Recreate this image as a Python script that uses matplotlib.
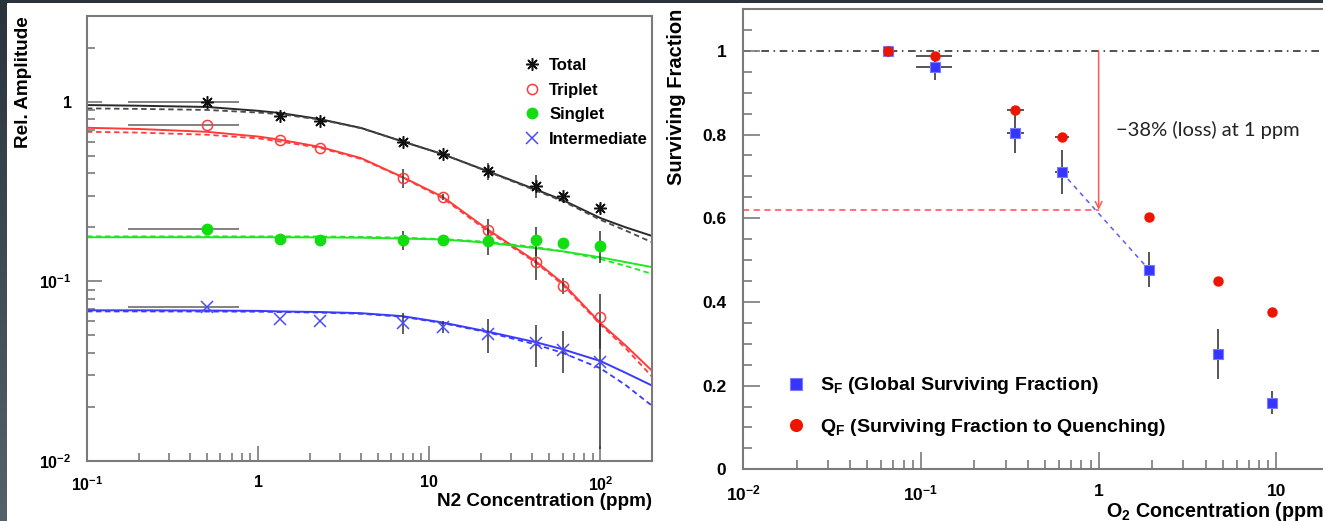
import numpy as np
import matplotlib
matplotlib.use('Agg')
import matplotlib.pyplot as plt
from matplotlib.lines import Line2D
from matplotlib.patches import Rectangle
from matplotlib.ticker import LogLocator, NullFormatter, FixedLocator, FixedFormatter, MultipleLocator

plt.rcParams['font.family'] = ['Liberation Sans', 'DejaVu Sans']
plt.rcParams['font.weight'] = 'bold'
plt.rcParams['axes.labelweight'] = 'bold'
plt.rcParams['mathtext.fontset'] = 'custom'
plt.rcParams['mathtext.rm'] = 'Liberation Sans:bold'
plt.rcParams['mathtext.bf'] = 'Liberation Sans:bold'
plt.rcParams['mathtext.default'] = 'rm'

W, H = 1323, 521

# ---- left panel: N2 data ----
n2_conc = [0.5, 1.35, 2.3, 7, 12, 22, 42, 60, 100]
n2_xerr_lo = [0.326, 0, 0, 0, 0, 0, 0, 0, 0]
n2_xerr_hi = [0.27, 0, 0, 0, 0, 0, 0, 0, 0]

total_amp = [1.0, 0.83, 0.78, 0.60, 0.51, 0.41, 0.34, 0.297, 0.256]
total_err = [0, 0, 0, 0.02, 0.015, 0.045, 0.05, 0.015, 0.015]
triplet_amp = [0.745, 0.61, 0.555, 0.377, 0.295, 0.192, 0.128, 0.0946, 0.0636]
triplet_err = [0, 0, 0, 0.044, 0.01, 0.031, 0.026, 0.01, 0.0214]
singlet_amp = [0.195, 0.171, 0.169, 0.170, 0.169, 0.1675, 0.170, 0.163, 0.158]
singlet_err = [0, 0, 0, 0.02, 0, 0.028, 0.032, 0.01, 0.032]
inter_amp = [0.0724, 0.0617, 0.0604, 0.059, 0.0558, 0.051, 0.0453, 0.0417, 0.0357]
inter_err = [0, 0, 0, 0.008, 0.004, 0.011, 0.012, 0.011, 0.024]

# fit curves (solid and dashed)
fit_conc = [0.1, 0.2, 0.5, 1, 1.35, 2.3, 4, 7, 12, 22, 42, 60, 100, 140, 200]
total_fit = [0.958, 0.95, 0.935, 0.89, 0.865, 0.80, 0.714, 0.60, 0.51, 0.41, 0.324, 0.284, 0.225, 0.20, 0.179]
total_fit2 = [0.918, 0.912, 0.90, 0.87, 0.852, 0.795, 0.712, 0.60, 0.51, 0.408, 0.32, 0.28, 0.22, 0.192, 0.165]
triplet_fit = [0.716, 0.705, 0.68, 0.64, 0.614, 0.56, 0.485, 0.38, 0.295, 0.194, 0.129, 0.098, 0.0585, 0.044, 0.0318]
triplet_fit2 = [0.68, 0.673, 0.655, 0.625, 0.60, 0.553, 0.48, 0.378, 0.29, 0.19, 0.127, 0.096, 0.0575, 0.0425, 0.0295]
singlet_fit = [0.176, 0.176, 0.176, 0.176, 0.176, 0.1757, 0.175, 0.173, 0.171, 0.164, 0.153, 0.147, 0.136, 0.128, 0.12]
singlet_fit2 = [0.178, 0.178, 0.178, 0.178, 0.178, 0.1777, 0.177, 0.175, 0.172, 0.166, 0.155, 0.147, 0.133, 0.122, 0.110]
inter_fit = [0.069, 0.069, 0.0688, 0.0685, 0.068, 0.0675, 0.0665, 0.064, 0.059, 0.0525, 0.0458, 0.0419, 0.036, 0.031, 0.0263]
inter_fit2 = [0.068, 0.068, 0.0679, 0.0678, 0.0675, 0.067, 0.066, 0.0635, 0.0585, 0.052, 0.0445, 0.040, 0.0328, 0.0265, 0.0203]

# ---- right panel: O2 data ----
o2_conc = [0.065, 0.12, 0.34, 0.62, 1.92, 4.7, 9.4]
o2_xerr_lo = [0, 0.026, 0.035, 0.05, 0, 0, 0]
o2_xerr_hi = [0, 0.029, 0.04, 0.06, 0, 0, 0]
sf = [1.0, 0.961, 0.804, 0.710, 0.477, 0.276, 0.159]
sf_err = [0, 0.03, 0.048, 0.053, 0.042, 0.06, 0.028]
qf = [1.0, 0.988, 0.859, 0.795, 0.602, 0.451, 0.377]
loss_conc = 1.0
loss_level = 0.62

GRAY = '#7a7a7a'

fig = plt.figure(figsize=(W / 100, H / 100), dpi=100)
fig.patch.set_facecolor('#2b343d')
fig.add_artist(Rectangle((7 / W, 0), 1, (H - 3) / H, transform=fig.transFigure,
                         facecolor='white', edgecolor='none', zorder=0))
strip = fig.add_axes([0, 0, 7 / W, (H - 3) / H])
grad = np.linspace(0, 1, 100).reshape(-1, 1)
strip.imshow(grad, aspect='auto', cmap=matplotlib.colors.LinearSegmentedColormap.from_list(
    'bg', ['#2b343d', '#56616b']), origin='upper')
strip.axis('off')


def style_axes(ax, size):
    for s in ax.spines.values():
        s.set_color(GRAY)
        s.set_linewidth(1.5)
    ax.tick_params(which='both', direction='in', color=GRAY, width=1.2,
                   top=False, right=False, labelsize=size, labelcolor='black')
    ax.tick_params(which='major', length=11)
    ax.tick_params(which='minor', length=5.5)


# ---------------- left ----------------
ax1 = fig.add_axes([87 / W, (H - 461) / H, 565 / W, 445 / H])
ax1.set_xscale('log')
ax1.set_yscale('log')
ax1.set_xlim(0.1, 200)
ax1.set_ylim(0.01, 3)
style_axes(ax1, 11.5)
ax1.tick_params(axis='x', pad=10)
ax1.tick_params(axis='y', pad=11)
ax1.xaxis.set_major_locator(FixedLocator([0.1, 1, 10, 100]))
ax1.xaxis.set_major_formatter(FixedFormatter(['$10^{-1}$', '1', '10', '$10^{2}$']))
ax1.xaxis.set_minor_locator(LogLocator(base=10, subs=np.arange(2, 10)))
ax1.xaxis.set_minor_formatter(NullFormatter())
ax1.yaxis.set_major_locator(FixedLocator([0.01, 0.1, 1]))
ax1.yaxis.set_major_formatter(FixedFormatter(['$10^{-2}$', '$10^{-1}$', '1']))
ax1.yaxis.set_minor_locator(LogLocator(base=10, subs=np.arange(2, 10)))
ax1.yaxis.set_minor_formatter(NullFormatter())

series = [
    (total_amp, total_err, total_fit, total_fit2, '#2a2a2a', '#4a4a4a',
     dict(marker=(8, 2, 0), ms=9, mew=1.1, mec='#111', mfc='#111'), 'Total'),
    (triplet_amp, triplet_err, triplet_fit, triplet_fit2, '#ff3b3b', '#ff3b3b',
     dict(marker='o', ms=7.3, mew=1.1, mec='#ff3b3b', mfc='none'), 'Triplet'),
    (singlet_amp, singlet_err, singlet_fit, singlet_fit2, '#22e622', '#22e622',
     dict(marker='o', ms=7.5, mew=1, mec='#11dd11', mfc='#11dd11'), 'Singlet'),
    (inter_amp, inter_err, inter_fit, inter_fit2, '#3a3aff', '#3a3aff',
     dict(marker='x', ms=8.3, mew=1.1, mec='#4a4aff'), 'Intermediate'),
]
handles = []
for amp, err, fit, fit2, c, c2, mk, lab in series:
    ax1.plot(fit_conc, fit, color=c, lw=1.4, zorder=2)
    ax1.plot(fit_conc, fit2, color=c2, lw=1.3, ls=(0, (3, 2)), zorder=2)
    ax1.errorbar(n2_conc, amp, xerr=[n2_xerr_lo, n2_xerr_hi], fmt='none',
                 ecolor='#777', elinewidth=1.3, zorder=3)
    ax1.errorbar(n2_conc, amp, yerr=err, fmt='none', ecolor='#333',
                 elinewidth=1.1, zorder=3)
    ax1.plot(n2_conc, amp, ls='none', zorder=4, **mk)
    handles.append(Line2D([], [], ls='none', label=lab, **mk))

ax1.legend(handles=handles, loc='upper left', bbox_to_anchor=(0.773, 0.905),
           frameon=False, fontsize=12, handlelength=1.0, handletextpad=0.52,
           labelspacing=0.57, borderaxespad=0, borderpad=0)
ax1.set_xlabel('N2 Concentration (ppm)', fontsize=13.6, loc='right')
ax1.xaxis.set_label_coords(1.0, -0.072)
ax1.set_ylabel('Rel. Amplitude', fontsize=13.6, loc='top')
ax1.yaxis.set_label_coords(-0.097, 1.0)

# ---------------- right ----------------
ax2 = fig.add_axes([743 / W, (H - 469.3) / H, 587 / W, 460.3 / H])
ax2.set_xscale('log')
ax2.set_xlim(0.01, 20)
ax2.set_ylim(0, 1.1)
style_axes(ax2, 12.5)
ax2.tick_params(which='major', length=12.5)
ax2.tick_params(which='minor', length=6.5)
ax2.tick_params(axis='x', pad=10.5)
ax2.tick_params(axis='y', pad=12)
ax2.xaxis.set_major_locator(FixedLocator([0.01, 0.1, 1, 10]))
ax2.xaxis.set_major_formatter(FixedFormatter(['$10^{-2}$', '$10^{-1}$', '1', '10']))
ax2.xaxis.set_minor_locator(LogLocator(base=10, subs=np.arange(2, 10)))
ax2.xaxis.set_minor_formatter(NullFormatter())
ax2.yaxis.set_major_locator(MultipleLocator(0.2))
ax2.yaxis.set_minor_locator(MultipleLocator(0.05))
ax2.yaxis.set_major_formatter(matplotlib.ticker.FuncFormatter(lambda v, p: f'{v:g}'))

ax2.axhline(1.0, color='#222', lw=1.1, ls=(0, (5, 3, 1, 3)), zorder=1)
ax2.plot([0.01, loss_conc], [loss_level, loss_level], color='#ff4a4a', lw=1.1,
         ls=(0, (4, 3)), zorder=1)
ax2.annotate('', xy=(loss_conc, loss_level), xytext=(loss_conc, 1.0),
             arrowprops=dict(arrowstyle='->', color='#ff5a5a', lw=1.1,
                             shrinkA=0, shrinkB=0, mutation_scale=12), zorder=1)
ax2.plot([o2_conc[3], o2_conc[4]], [sf[3], sf[4]], color='#5a5aff', lw=1.1,
         ls=(0, (3, 3)), zorder=1)
ax2.text(1.25, 0.81, '\u221238% (loss) at 1 ppm', fontsize=14.5, family='Lato',
         weight='normal', ha='left', va='center', color='#222')

ax2.errorbar(o2_conc, sf, yerr=sf_err, xerr=[o2_xerr_lo, o2_xerr_hi], fmt='none',
             ecolor='#555', elinewidth=1.4, zorder=2)
ax2.errorbar(o2_conc, qf, xerr=[o2_xerr_lo, o2_xerr_hi], fmt='none',
             ecolor='#555', elinewidth=1.4, zorder=2)
h_sf, = ax2.plot(o2_conc, sf, ls='none', marker='s', ms=6.5, mfc='#3535ff',
                 mec='#7a7aff', mew=0.8, zorder=3,
                 label='S$_\\mathbf{F}$ (Global Surviving Fraction)')
h_qf, = ax2.plot(o2_conc, qf, ls='none', marker='o', ms=6.5, mfc='#ee1500',
                 mec='#ee1500', zorder=4,
                 label='Q$_\\mathbf{F}$ (Surviving Fraction to Quenching)')
ax2.legend(handles=[h_sf, h_qf], loc='upper left', bbox_to_anchor=(0.0738, 0.204),
           frameon=False, fontsize=14, handlelength=1.0, handletextpad=0.73,
           labelspacing=1.05, borderaxespad=0, borderpad=0, markerscale=1.3)
ax2.set_xlabel('O$_2$ Concentration (ppm)', fontsize=14.2, loc='right')
ax2.xaxis.set_label_coords(1.0, -0.066)
ax2.set_ylabel('Surviving Fraction', fontsize=14.5, loc='top')
ax2.yaxis.set_label_coords(-0.097, 1.0)

fig.savefig('out.png', dpi=100, facecolor=fig.get_facecolor())
